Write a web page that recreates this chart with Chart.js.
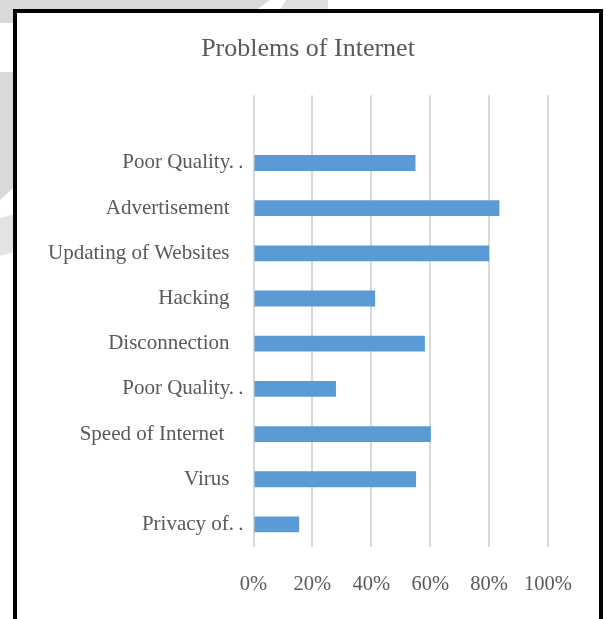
<!DOCTYPE html>
<html>
<head>
<meta charset="utf-8">
<title>Problems of Internet</title>
<script src="https://cdn.jsdelivr.net/npm/chart.js@4/dist/chart.umd.min.js"></script>
<style>
  html, body { margin: 0; padding: 0; background: #ffffff; }
  body { width: 606px; height: 619px; position: relative; overflow: hidden; }
  .shade { position: absolute; background: #d9d9d9; }
  #frame {
    position: absolute; left: 13px; top: 9px; width: 582px; height: 640px;
    border: 4px solid #000; border-bottom: none; background: #fff;
  }
  #chart { position: absolute; left: 0; top: 0; }
</style>
</head>
<body>
<!-- light grey decorative strips behind the frame -->
<div class="shade" style="left:0;top:0;width:270px;height:10px;clip-path:polygon(0 0,100% 0,95% 100%,0 100%);"></div>
<div class="shade" style="left:280px;top:0;width:48px;height:10px;background:#e0e0e0;clip-path:polygon(12% 0,100% 0,100% 100%,0 100%);"></div>
<div class="shade" style="left:0;top:0;width:14px;height:23px;"></div>
<div class="shade" style="left:0;top:72px;width:14px;height:128px;clip-path:polygon(0 0,100% 0,100% 90%,0 100%);"></div>
<div class="shade" style="left:0;top:214px;width:14px;height:42px;background:#e3e3e3;clip-path:polygon(0 10%,100% 0,100% 90%,0 100%);"></div>
<div id="frame"></div>
<canvas id="chart" width="606" height="619"></canvas>
<script>
// Survey: share of respondents reporting each internet problem (%)
const categories = [
  '',
  'Poor Quality.\u2009.',
  'Advertisement\u2004\u2004',
  'Updating of Websites\u2004\u2004',
  'Hacking\u2004\u2004',
  'Disconnection\u2004\u2004',
  'Poor Quality.\u2009.',
  'Speed of Internet \u2004\u2004',
  'Virus\u2004\u2004',
  'Privacy of.\u2009.'
];
const values = [null, 55, 83.5, 80, 41.3, 58.2, 28, 60.2, 55.2, 15.5];
const tickLabels = ['0%', '20%', '40%', '60%', '80%', '100%'];

const serif = "'Liberation Serif', 'Times New Roman', serif";
const textColor = '#595959';

new Chart(document.getElementById('chart'), {
  type: 'bar',
  data: {
    labels: categories,
    datasets: [{
      data: values,
      backgroundColor: '#5b9bd5',
      borderWidth: 0,
      barPercentage: 0.35,
      categoryPercentage: 1.0
    }]
  },
  options: {
    indexAxis: 'y',
    responsive: false,
    animation: false,
    layout: { padding: { left: 17, right: 7, top: 0, bottom: 0 } },
    plugins: {
      legend: { display: false },
      tooltip: { enabled: false },
      title: {
        display: true,
        text: 'Problems of Internet',
        color: textColor,
        font: { family: serif, size: 26, weight: 'normal' },
        padding: { top: 34, bottom: 30 }
      }
    },
    scales: {
      x: {
        min: 0,
        max: 100,
        ticks: {
          stepSize: 20,
          color: textColor,
          font: { family: serif, size: 20.5 },
          padding: 25,
          maxRotation: 0,
          callback: (v, i) => tickLabels[i]
        },
        grid: { color: '#d9d9d9', lineWidth: 2, drawTicks: false },
        border: { display: false },
        afterFit: (scale) => { scale.height = 72; scale.paddingRight = 58; }
      },
      y: {
        ticks: {
          color: textColor,
          font: { family: serif, size: 21 },
          padding: 10,
          autoSkip: false
        },
        grid: { display: false, drawTicks: false },
        border: { display: false },
        afterFit: (scale) => { scale.width = 236.5; }
      }
    }
  }
});
</script>
</body>
</html>
